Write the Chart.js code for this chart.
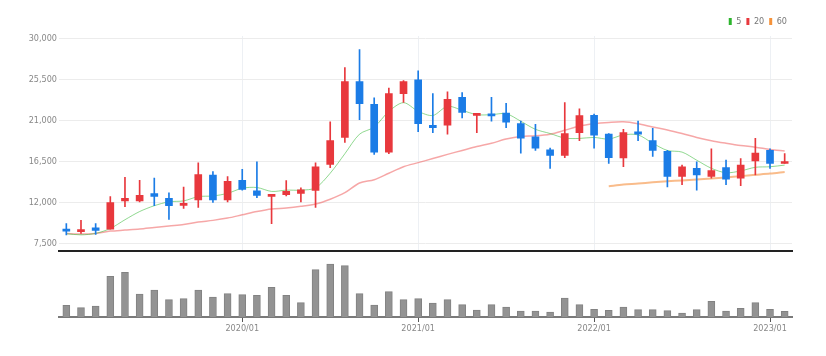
<!DOCTYPE html>
<html><head><meta charset="utf-8">
<script src="https://cdn.jsdelivr.net/npm/chart.js@4/dist/chart.umd.min.js"></script>
<style>
html,body{margin:0;padding:0;background:#fff;}
#wrap{position:relative;width:826px;height:356px;overflow:hidden;background:#fff;}
#pw{position:absolute;left:0;top:0;width:826px;height:258px;}
#vw{position:absolute;left:0;top:258px;width:826px;height:98px;}
</style></head><body>
<div id="wrap"><div id="pw"><canvas id="price"></canvas></div><div id="vw"><canvas id="vol"></canvas></div></div>
<script>
// ---- data (monthly candles 2019/01 .. 2023/02) ----
const labels = [];
for (let y = 2019; y <= 2023; y++) for (let m = 1; m <= 12; m++) {
  if (y === 2023 && m > 2) break;
  labels.push(y + '/' + String(m).padStart(2, '0'));
}
const opens  = [9107, 8821, 9250, 9107, 12214, 12214, 13000, 12500, 11700, 12321, 15036, 12321, 14464, 13321, 12700, 12893, 13036, 13357, 16214, 19179, 25321, 22821, 17571, 24000, 25500, 20500, 20536, 23571, 21600, 21700, 21857, 20714, 19250, 17821, 17214, 19714, 21607, 19536, 16929, 19786, 18821, 17643, 14893, 15786, 14893, 15857, 14714, 16607, 17750, 16321];
const highs  = [9714, 10071, 9714, 12679, 14786, 14464, 14714, 13107, 13714, 16393, 15429, 14893, 15679, 16500, 12900, 14429, 13643, 16393, 20893, 26857, 28821, 23536, 24607, 25429, 26500, 24000, 24179, 24107, 21800, 23571, 22929, 20964, 20607, 18000, 23000, 22321, 21750, 19600, 20071, 20964, 20179, 17750, 16143, 16500, 17929, 16679, 16857, 19071, 17929, 17393];
const lows   = [8464, 8643, 8536, 9107, 11571, 12107, 11679, 10179, 11393, 11500, 12050, 12100, 13393, 12571, 9714, 12750, 12107, 11500, 15857, 18643, 21143, 17321, 17393, 23036, 19821, 19714, 19536, 21321, 19714, 20964, 20250, 17464, 17750, 15786, 16964, 18821, 18000, 16321, 15964, 18821, 17107, 13750, 14000, 13393, 14714, 14000, 13893, 15071, 15786, 16321];
const closes = [8893, 9071, 8964, 12036, 12500, 12821, 12714, 11679, 11930, 15107, 12321, 14357, 13464, 12821, 12850, 13250, 13429, 15964, 18821, 25321, 22893, 17571, 24000, 25321, 20679, 20250, 23357, 21929, 21790, 21550, 20857, 19107, 18000, 17214, 19607, 21571, 19429, 16964, 19714, 19536, 17750, 14893, 15964, 15071, 15536, 14607, 16143, 17464, 16321, 16500];
const ma5  = [8600, 8480, 8640, 9180, 10140, 11040, 11680, 12110, 12210, 12680, 12750, 13040, 13600, 13680, 13250, 13390, 13390, 13640, 15250, 17390, 19540, 20320, 22040, 23000, 22050, 21590, 22600, 22160, 21680, 21680, 21790, 20960, 20070, 19610, 19110, 19070, 19180, 19000, 19460, 19460, 18540, 17750, 17570, 16680, 15790, 15300, 15500, 15900, 15960, 16140];
const ma20 = [8640, 8570, 8640, 8890, 9000, 9110, 9290, 9460, 9610, 9890, 10070, 10320, 10680, 11040, 11320, 11430, 11610, 11860, 12390, 13110, 14180, 14540, 15250, 15960, 16410, 16860, 17320, 17750, 18180, 18540, 19000, 19290, 19360, 19540, 19960, 20430, 20680, 20820, 20890, 20680, 20320, 20000, 19610, 19180, 18820, 18540, 18290, 18110, 17860, 17680];
const ma60 = [null, null, null, null, null, null, null, null, null, null, null, null, null, null, null, null, null, null, null, null, null, null, null, null, null, null, null, null, null, null, null, null, null, null, null, null, null, 13820, 14000, 14110, 14250, 14360, 14460, 14570, 14680, 14790, 14930, 15070, 15210, 15390];
const volumes = [350, 280, 330, 1220, 1340, 690, 810, 520, 550, 810, 600, 700, 670, 650, 890, 650, 430, 1420, 1590, 1540, 700, 360, 760, 520, 550, 420, 520, 370, 210, 370, 300, 180, 180, 150, 570, 370, 230, 200, 300, 220, 220, 190, 120, 220, 470, 180, 260, 430, 230, 170];
const yTicks = [7500, 12000, 16500, 21000, 25500, 30000];
const xTickLabels = ['2020/01', '2021/01', '2022/01', '2023/01'];
const maNames = ['5', '20', '60'];

// ---- styles ----
const FONT = "'Liberation Sans Narrow','DejaVu Sans Condensed','Arial Narrow','Liberation Sans',sans-serif";
const UP = '#e8383d', DOWN = '#1b7ce6';
const candleColors = opens.map((o, i) => closes[i] >= o ? UP : DOWN);
function keepYearTicks(scale) {
  scale.ticks = scale.ticks.filter(t => xTickLabels.includes(labels[t.value]));
}

new Chart(document.getElementById('price'), {
  type: 'bar',
  data: {
    labels,
    datasets: [
      { label: 'body', data: opens.map((o, i) => [o, closes[i]]), backgroundColor: candleColors,
        barThickness: 7, grouped: false, minBarLength: 2, order: 0 },
      { label: 'wick', data: lows.map((l, i) => [l, highs[i]]), backgroundColor: candleColors,
        barThickness: 1, grouped: false, order: 1 },
      { type: 'line', label: maNames[0], data: ma5, borderColor: 'rgba(70,190,70,0.6)', borderWidth: 1,
        pointRadius: 0, tension: 0.3, order: 2, legendColor: '#2db52d' },
      { type: 'line', label: maNames[1], data: ma20, borderColor: 'rgba(238,95,95,0.55)', borderWidth: 1.5,
        pointRadius: 0, tension: 0.3, order: 3, legendColor: '#e8383d' },
      { type: 'line', label: maNames[2], data: ma60, borderColor: 'rgba(246,160,90,0.7)', borderWidth: 2,
        pointRadius: 0, tension: 0.3, order: 4, legendColor: '#f5923a' }
    ]
  },
  options: {
    responsive: true, maintainAspectRatio: false, animation: false,
    layout: { padding: { left: 0, right: 34, top: 12, bottom: 2 } },
    plugins: {
      tooltip: { enabled: false },
      legend: {
        position: 'top', align: 'end',
        labels: {
          boxWidth: 3, boxHeight: 7, padding: 5, color: '#777',
          font: { family: FONT, size: 9 },
          generateLabels: chart => chart.data.datasets.map((ds, i) => ds.legendColor ? ({
            text: ds.label, fillStyle: ds.legendColor, strokeStyle: ds.legendColor, lineWidth: 0,
            hidden: false, datasetIndex: i, fontColor: '#777'
          }) : null).filter(Boolean)
        }
      }
    },
    scales: {
      x: {
        offset: true,
        afterBuildTicks: keepYearTicks,
        ticks: { display: false, autoSkip: false },
        grid: { offset: false, color: '#edf0f4', drawTicks: false },
        border: { display: true, color: '#222', width: 2 },
        afterFit: s => { s.height = 0; }
      },
      y: {
        min: 6750, max: 30321, bounds: 'data', beginAtZero: false,
        afterBuildTicks: s => { s.ticks = yTicks.map(v => ({ value: v })); },
        ticks: { color: '#888', font: { family: FONT, size: 9 }, padding: 2,
          callback: v => Number(v).toLocaleString('en-US') },
        grid: { color: '#ececec', drawTicks: false },
        border: { display: false },
        afterFit: s => { s.width = 59; }
      }
    }
  }
});

new Chart(document.getElementById('vol'), {
  type: 'bar',
  data: {
    labels,
    datasets: [{ label: 'volume', data: volumes, backgroundColor: '#939393', borderColor: '#828282',
      borderWidth: 1, barThickness: 7 }]
  },
  options: {
    responsive: true, maintainAspectRatio: false, animation: false,
    layout: { padding: { left: 59, right: 34, top: 2, bottom: 19 } },
    plugins: { legend: { display: false }, tooltip: { enabled: false } },
    scales: {
      x: {
        offset: true,
        afterBuildTicks: keepYearTicks,
        ticks: { color: '#888', font: { family: FONT, size: 9 }, padding: 1, autoSkip: false, maxRotation: 0 },
        grid: { offset: false, drawOnChartArea: false, drawTicks: true, tickLength: 5, color: '#555' },
        border: { display: true, color: '#7a7a7a', width: 2 },
        afterFit: s => { s.height = 20; }
      },
      y: { display: false, min: 0, max: 1710 }
    }
  }
});
</script>
</body></html>
